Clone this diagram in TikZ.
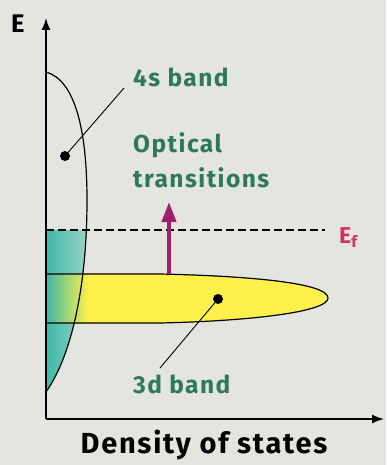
\documentclass[tikz,border=0pt]{standalone}
\usepackage{fontspec}
\setmainfont{Fira Sans}
\newfontfamily\labfont[LetterSpace=6]{Fira Sans}
\usetikzlibrary{arrows.meta}

\definecolor{bgcol}{HTML}{E3E5DE}
\definecolor{labgreen}{HTML}{2E7A58}
\definecolor{tealfill}{HTML}{3DB8A8}
\definecolor{tealpale}{HTML}{9ED8C8}
\definecolor{bandyellow}{HTML}{FFF04C}
\definecolor{paleyellow}{HTML}{F8F6B8}
\definecolor{arrowpurple}{HTML}{9E1F6E}
\definecolor{fermired}{HTML}{D03464}

\begin{document}
\begin{tikzpicture}[x=1pt, y=-1pt,
    bandlabel/.style={text=labgreen, font=\labfont\fontsize{24.5}{26}\selectfont\bfseries, inner sep=0pt, anchor=base west},
    banddot/.style={circle, fill=black, inner sep=0pt, minimum size=10pt},
    leader/.style={line width=0.9pt},
    outline/.style={line width=1.2pt},
    axis/.style={line width=1.4pt, -{Latex[length=12pt,width=9pt]}}]

    % --- background and frame ---
    \fill[bgcol] (0,0) rectangle (386,465);
    \useasboundingbox (0,0) rectangle (386,465);

    % --- filled 4s states below E_f ---
    \begin{scope}
        \clip (46,72) .. controls (75,80) and (87,130) .. (87,200)
              .. controls (87,285) and (72,355) .. (46,392) -- cycle;
        \shade[left color=tealfill, right color=tealpale] (46,230) rectangle (90,392);
    \end{scope}

    % --- 3d band ---
    \fill[bandyellow] (46,274) -- (160,274) .. controls (250,276) and (328,283) .. (328,298)
        .. controls (328,312) and (250,321) .. (160,323) -- (46,323) -- cycle;
    \begin{scope}
        \clip (46,274) rectangle (160,323);
        \shade[left color=tealfill, middle color=paleyellow, right color=bandyellow] (46,274) rectangle (88,323);
    \end{scope}
    \draw[outline] (46,274) -- (160,274) .. controls (250,276) and (328,283) .. (328,298)
        .. controls (328,312) and (250,321) .. (160,323) -- (46,323);

    % --- 4s band outline ---
    \draw[outline] (46,72) .. controls (75,80) and (87,130) .. (87,200)
        .. controls (87,285) and (72,355) .. (46,392);

    % --- Fermi level ---
    \coordinate (ef0) at (46,230);
    \coordinate (ef1) at (325,230);
    \draw[line width=1.3pt, dash pattern=on 8pt off 4pt] (ef0) -- (ef1);
    \node[text=fermired, font=\labfont\fontsize{23}{25}\selectfont\bfseries, inner sep=0pt, anchor=base west]
        (eflab) at (339,243) {E\raisebox{-0.35ex}{\fontsize{16}{16}\selectfont f}};

    % --- axes ---
    \coordinate (origin) at (46,419);
    \coordinate (etop) at (46,18);
    \coordinate (dosend) at (384,419);
    \draw[axis] (origin) -- (etop);
    \draw[axis] (origin) -- (dosend);
    \node[font=\labfont\fontsize{25.5}{27}\selectfont\bfseries, inner sep=0pt, anchor=base west] (elab) at (11,33) {E};
    \node[font=\labfont\fontsize{29}{31}\selectfont\bfseries, inner sep=0pt, anchor=base] (doslab) at (204,453) {Density of states};

    % --- optical transition arrow ---
    \coordinate (optfrom) at (169,274);
    \coordinate (optto) at (169,202);
    \draw[arrowpurple, line width=4pt, -{Triangle[length=20pt,width=14pt]}] (optfrom) -- (optto);
    \node[bandlabel] (optlab1) at (133,153) {Optical};
    \node[bandlabel] (optlab2) at (133,187) {transitions};

    % --- band labels with leaders ---
    \node[banddot] (sdot) at (65,156) {};
    \node[banddot] (ddot) at (218,299) {};
    \node[bandlabel] (slab) at (133,87) {4s band};
    \node[bandlabel] (dlab) at (133,393) {3d band};
    \coordinate (send) at (124,88);
    \coordinate (dend) at (160,368);
    \draw[leader] (sdot) -- (send);
    \draw[leader] (ddot) -- (dend);
\end{tikzpicture}
\end{document}
